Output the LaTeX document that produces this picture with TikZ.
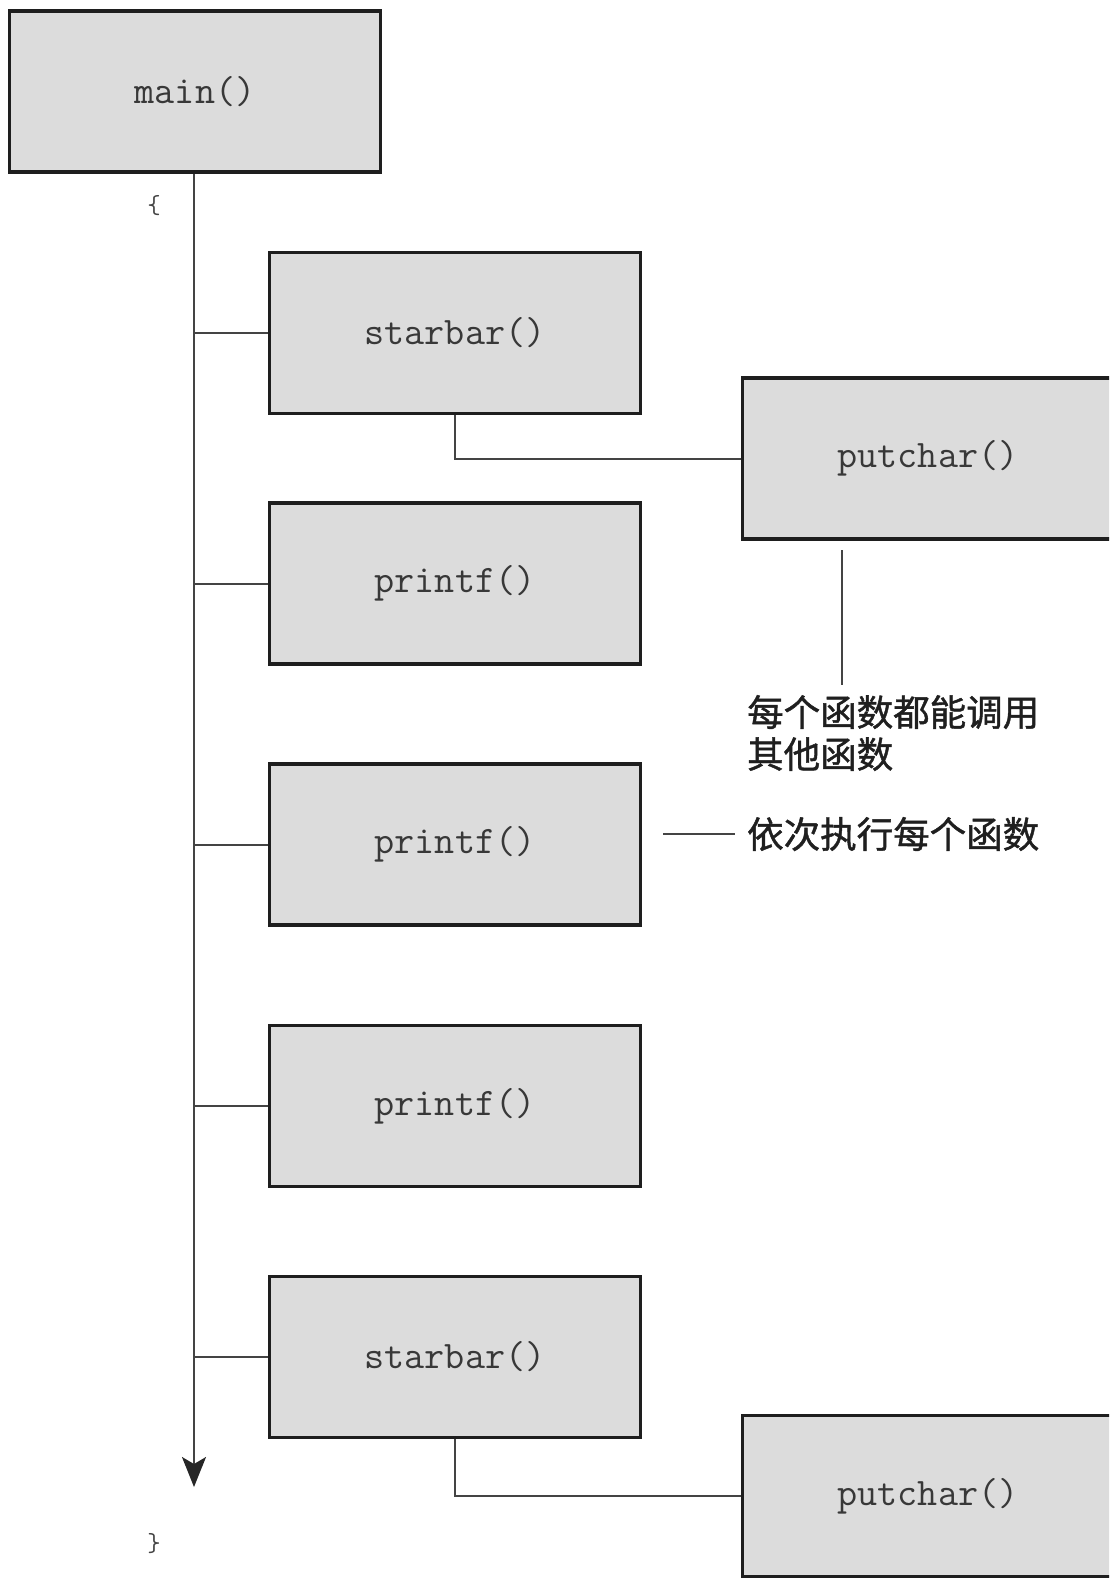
\documentclass[tikz,border=0pt]{standalone}
\usepackage{fontspec}
\newfontfamily\cjk[BoldFont={Noto Sans CJK SC}, BoldFeatures={FakeBold=1.2}]{Noto Sans CJK SC}
\usetikzlibrary{arrows.meta, positioning}
\definecolor{cfill}{HTML}{DCDCDC}
\definecolor{cedge}{HTML}{1E1E1E}
\definecolor{cline}{HTML}{444444}
\definecolor{ctext}{HTML}{383838}
\tikzset{
  every picture/.style={x=1pt, y=-1pt},
  func/.style={draw=cedge, fill=cfill, line width=3.4pt, minimum width=371pt, minimum height=161pt,
    inner sep=0pt, text=ctext, font=\ttfamily\fontsize{39}{42}\selectfont},
  link/.style={draw=cline, line width=2pt},
  flow/.style={-{Stealth[length=30pt, width=24pt, inset=7pt, color=black!85]}, draw=cline, line width=2pt},
  note/.style={font=\cjk\bfseries\fontsize{36.5}{42}\selectfont, text=black!88, align=left, anchor=west, inner sep=0pt},
  brace/.style={font=\ttfamily\fontsize{26}{26}\selectfont, text=cline, inner sep=0pt},
}

\begin{document}
\begin{tikzpicture}
  \useasboundingbox (0,0) rectangle (1109,1580);
  \clip (0,0) rectangle (1109,1580);
  % function boxes
  \node[func] (main) at (195,91.5) {main()};
  \node[func] (sb1) at (455,333) {starbar()};
  \node[func] (pc1) at (928,458.5) {putchar()};
  \node[func] (pf1) at (455,583.5) {printf()};
  \node[func] (pf2) at (455,844.5) {printf()};
  \node[func] (pf3) at (455,1106) {printf()};
  \node[func] (sb2) at (455,1357) {starbar()};
  \node[func] (pc2) at (928,1496) {putchar()};
  \node[brace] (open) at (154,206) {\{};
  \node[brace] (close) at (154,1544) {\}};
  % notes
  \node[note] (calls) at (747,733) {每个函数都能调用\\其他函数};
  \node[note] (order) at (747,834) {依次执行每个函数};
  \coordinate (tip) at (194,1487);
  \coordinate (ctop) at (842,550);
  \coordinate (cbot) at (842,685);
  \coordinate (oleft) at (663,834);
  % main flow
  \draw[flow] (main.south -| tip) -- (tip);
  \foreach \f in {sb1, pf1, pf2, pf3, sb2}
    \draw[link] (\f.west) -- (\f.west -| tip);
  \draw[link] (sb1.south) |- (pc1.west);
  \draw[link] (sb2.south) |- (pc2.west);
  \draw[link] (ctop) -- (cbot);
  \draw[link] (oleft) -- (order.west -| 735,0);
\end{tikzpicture}
\end{document}
